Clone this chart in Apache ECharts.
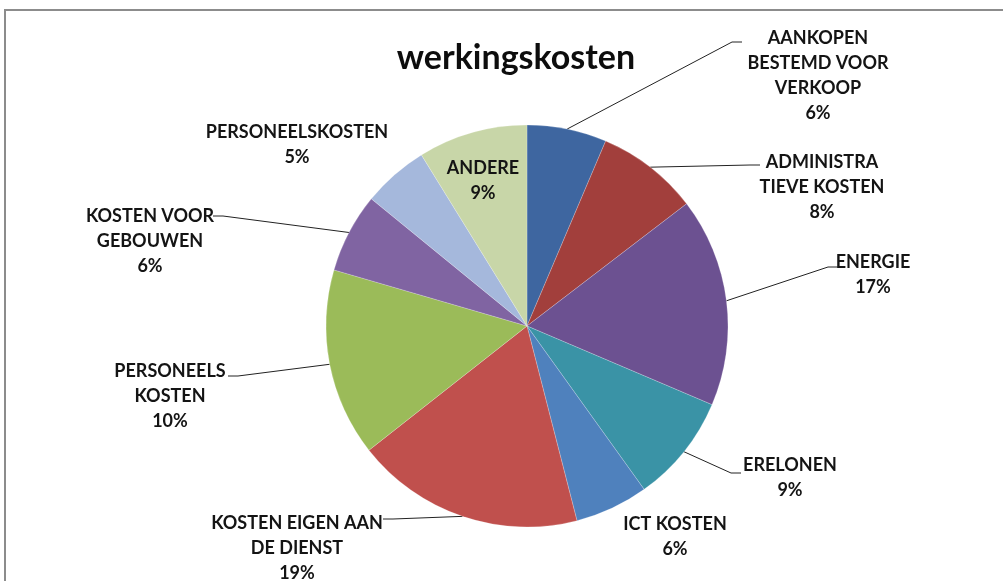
<!DOCTYPE html>
<html>
<head>
<meta charset="utf-8">
<script src="https://cdn.jsdelivr.net/npm/echarts@6/dist/echarts.min.js"></script>
<style>
  html, body { margin: 0; padding: 0; background: #fff; }
  #frame {
    position: absolute; left: 4px; top: 9px; width: 1010px; height: 600px;
    border: 2px solid #8c8c8c; box-sizing: border-box;
  }
  #container { position: absolute; left: 0; top: 0; width: 1003px; height: 581px; }
</style>
</head>
<body>
<div id="frame"></div>
<div id="container"></div>
<script>
// slice names (as printed), measured slice sizes and printed percentages
const categories = [
  'AANKOPEN\nBESTEMD VOOR\nVERKOOP',
  'ADMINISTRA\nTIEVE KOSTEN',
  'ENERGIE',
  'ERELONEN',
  'ICT KOSTEN',
  'KOSTEN EIGEN AAN\nDE DIENST',
  'PERSONEELS\nKOSTEN',
  'KOSTEN VOOR\nGEBOUWEN',
  'PERSONEELSKOSTEN',
  'ANDERE'
];
const values = [6.4, 8.2, 16.8, 8.7, 5.9, 18.4, 15.1, 6.4, 5.3, 8.8];
const shownPct = ['6%', '8%', '17%', '9%', '6%', '19%', '10%', '6%', '5%', '9%'];
const colors = ['#3e66a0', '#a23f3c', '#6c5191', '#3a93a6', '#4f81bd',
  '#c0504d', '#9bbb59', '#8064a2', '#a5b8dc', '#c8d6a8'];

// label placement: centre of text block, and end of leader line (null = no leader)
const labelPos = [
  { x: 818, y: 76, end: [742, 42] },
  { x: 822, y: 187, end: [760, 165] },
  { x: 873, y: 275, end: [838, 267] },
  { x: 790, y: 478, end: [741, 473] },
  { x: 675, y: 537, end: null },
  { x: 297, y: 548, end: [383, 519] },
  { x: 170, y: 396, end: [228, 376] },
  { x: 150, y: 241, end: [213, 216] },
  { x: 297, y: 145, end: null },
  { x: 483, y: 181, end: null }
];

const dom = document.getElementById('container');
const myChart = echarts.init(dom, null, { renderer: 'canvas' });

const option = {
  animation: false,
  title: {
    text: 'werkingskosten',
    left: 511, top: 36, textAlign: 'center',
    textStyle: { fontFamily: 'Lato', fontWeight: 'bold', fontSize: 34, color: '#0d0d0d' }
  },
  series: [{
    type: 'pie',
    center: [527, 326],
    radius: 201,
    startAngle: 90,
    clockwise: true,
    avoidLabelOverlap: false,
    itemStyle: { borderColor: 'rgba(255,255,255,0.35)', borderWidth: 0.6 },
    label: {
      show: true,
      position: 'outside',
      formatter: (p) => p.name + '\n' + shownPct[p.dataIndex],
      fontFamily: 'Lato', fontWeight: 'bold', fontSize: 18,
      lineHeight: 25, color: '#141414', align: 'center'
    },
    labelLine: { show: true, lineStyle: { color: '#222', width: 1 } },
    labelLayout: (params) => {
      const lp = labelPos[params.dataIndex];
      const out = { x: lp.x, y: lp.y, align: 'center', verticalAlign: 'middle' };
      const start = params.labelLinePoints ? params.labelLinePoints[0] : null;
      if (lp.end && start) {
        const dir = lp.end[0] > start[0] ? 1 : -1;
        out.labelLinePoints = [start, [lp.end[0] - dir * 10, lp.end[1]], lp.end];
      } else {
        out.labelLinePoints = [[0, 0], [0, 0], [0, 0]];
      }
      return out;
    },
    data: categories.map((name, i) => ({
      name: name,
      value: values[i],
      itemStyle: { color: colors[i] },
      labelLine: { show: labelPos[i].end !== null }
    }))
  }]
};

myChart.setOption(option);
window.addEventListener('resize', myChart.resize);
</script>
</body>
</html>
